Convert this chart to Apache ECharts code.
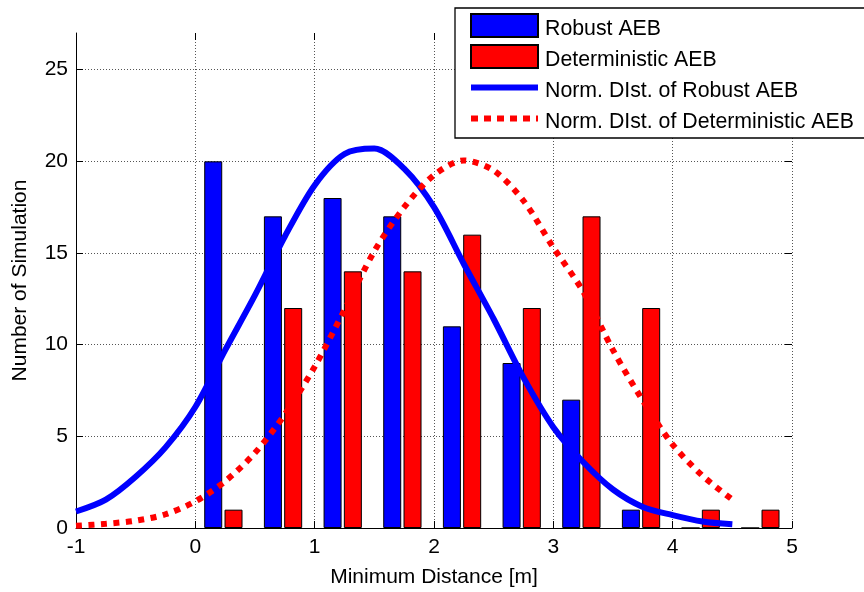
<!DOCTYPE html>
<html>
<head>
<meta charset="utf-8">
<script src="https://cdn.jsdelivr.net/npm/echarts@6/dist/echarts.min.js"></script>
<style>
html,body{margin:0;padding:0;background:#fff;}
#chart{width:864px;height:592px;}
</style>
</head>
<body>
<div id="chart"></div>
<script>
// ---- data ----
const seriesNames = ['Robust AEB', 'Deterministic AEB', 'Norm. DIst. of Robust AEB', 'Norm. DIst. of Deterministic AEB'];
const robustX = [0.15, 0.65, 1.15, 1.65, 2.15, 2.65, 3.15, 3.65, 4.15, 4.65];
const robustCounts = [20, 17, 18, 17, 11, 9, 7, 1, 0, 0];
const detX = [0.32, 0.82, 1.32, 1.82, 2.32, 2.82, 3.32, 3.82, 4.32, 4.82];
const detCounts = [1, 12, 14, 14, 16, 12, 17, 12, 1, 1];
const curveX = [-1, -0.75, -0.5, -0.25, 0, 0.25, 0.5, 0.75, 1, 1.25, 1.5, 1.75, 2, 2.25, 2.5, 2.75, 3, 3.25, 3.5, 3.75, 4, 4.25, 4.5];
const robustNorm = [0.9, 1.55, 2.8, 4.4, 6.6, 9.7, 12.7, 15.9, 18.7, 20.4, 20.7, 19.6, 17.5, 14.4, 11.4, 8.2, 5.5, 3.6, 2.1, 1.15, 0.7, 0.35, 0.2];
const detNorm = [0.12, 0.23, 0.4, 0.75, 1.45, 2.55, 4.1, 6.2, 8.8, 11.9, 15.1, 17.5, 19.25, 20.05, 19.5, 17.85, 15.3, 12.9, 9.7, 6.95, 4.55, 2.85, 1.55];
const xAxisRange = {min: -1, max: 5, interval: 1};
const yAxisRange = {min: 0, max: 27, interval: 5};
const xAxisTitle = 'Minimum Distance [m]';
const yAxisTitle = 'Number of Simulation';

const pairs = (xs, ys) => xs.map((x, i) => [x, ys[i]]);
const FONT = "'Liberation Sans', Arial, sans-serif";

const chart = echarts.init(document.getElementById('chart'), null, {renderer: 'canvas'});

const tickStyle = {show: true, inside: true, length: 7, lineStyle: {color: '#000', width: 1}};
const baseX = {type: 'value', min: xAxisRange.min, max: xAxisRange.max, interval: xAxisRange.interval};
const baseY = {type: 'value', min: yAxisRange.min, max: yAxisRange.max, interval: yAxisRange.interval};
const hiddenSymbol = {opacity: 0, color: 'transparent', borderWidth: 0};

chart.setOption({
  animation: false,
  backgroundColor: '#fff',
  textStyle: {fontFamily: FONT},
  grid: {left: 76, right: 72, top: 33, bottom: 64, containLabel: false, outerBoundsMode: 'none'},
  legend: {
    orient: 'vertical',
    left: 455, top: 8,
    padding: [3.5, 13, 5.5, 13],
    itemWidth: 67, itemHeight: 23, itemGap: 3,
    backgroundColor: '#fff',
    borderColor: '#000', borderWidth: 1.3, borderRadius: 0,
    selectedMode: false,
    lineStyle: {width: 6, cap: 'butt'},
    formatter: name => '{t|' + name + '}',
    textStyle: {
      fontFamily: FONT, fontSize: 21.3, color: '#000',
      rich: {t: {fontFamily: FONT, fontSize: 21.3, color: '#000', padding: [7, 0, 0, 2], lineHeight: 16}}
    },
    data: [
      {name: seriesNames[0], icon: 'rect'},
      {name: seriesNames[1], icon: 'rect'},
      {name: seriesNames[2], itemStyle: hiddenSymbol},
      {name: seriesNames[3], itemStyle: hiddenSymbol, lineStyle: {type: [7, 6], width: 6}}
    ]
  },
  xAxis: [
    Object.assign({}, baseX, {
      position: 'bottom',
      name: xAxisTitle, nameLocation: 'middle', nameGap: 39,
      nameTextStyle: {fontFamily: FONT, fontSize: 21, color: '#000'},
      axisLine: {show: true, onZero: false, lineStyle: {color: '#000', width: 1}},
      axisTick: tickStyle,
      axisLabel: {fontFamily: FONT, fontSize: 21, color: '#000', margin: 9},
      splitLine: {show: true, lineStyle: {color: '#555', width: 1, type: [1, 2]}}
    }),
    Object.assign({}, baseX, {
      position: 'top',
      axisLine: {show: false, onZero: false},
      axisTick: tickStyle,
      axisLabel: {show: false},
      splitLine: {show: false}
    })
  ],
  yAxis: [
    Object.assign({}, baseY, {
      position: 'left',
      name: yAxisTitle, nameLocation: 'middle', nameGap: 45, nameRotate: 90,
      nameTextStyle: {fontFamily: FONT, fontSize: 21, color: '#000'},
      axisLine: {show: true, onZero: false, lineStyle: {color: '#000', width: 1}},
      axisTick: tickStyle,
      axisLabel: {fontFamily: FONT, fontSize: 21, color: '#000', margin: 8, showMaxLabel: false},
      splitLine: {show: true, showMaxLine: false, lineStyle: {color: '#555', width: 1, type: [1, 2]}}
    }),
    Object.assign({}, baseY, {
      position: 'right',
      axisLine: {show: false, onZero: false},
      axisTick: tickStyle,
      axisLabel: {show: false},
      splitLine: {show: false}
    })
  ],
  series: [
    {
      name: seriesNames[0], type: 'bar', xAxisIndex: 0, yAxisIndex: 0,
      data: pairs(robustX, robustCounts),
      barWidth: 18, barGap: '-100%',
      itemStyle: {color: '#0000ff', borderColor: '#000', borderWidth: 1}
    },
    {
      name: seriesNames[1], type: 'bar', xAxisIndex: 0, yAxisIndex: 0,
      data: pairs(detX, detCounts),
      barWidth: 18, barGap: '-100%',
      itemStyle: {color: '#ff0000', borderColor: '#000', borderWidth: 1}
    },
    {
      name: seriesNames[2], type: 'line', xAxisIndex: 0, yAxisIndex: 0,
      data: pairs(curveX, robustNorm),
      symbol: 'none', showSymbol: false, smooth: 0.3,
      lineStyle: {color: '#0000ff', width: 6, cap: 'butt'},
      itemStyle: {color: '#0000ff'}
    },
    {
      name: seriesNames[3], type: 'line', xAxisIndex: 0, yAxisIndex: 0,
      data: pairs(curveX, detNorm),
      symbol: 'none', showSymbol: false, smooth: 0.3,
      lineStyle: {color: '#ff0000', width: 6, type: [6, 6.5], cap: 'butt'},
      itemStyle: {color: '#ff0000'}
    }
  ]
});
</script>
</body>
</html>
